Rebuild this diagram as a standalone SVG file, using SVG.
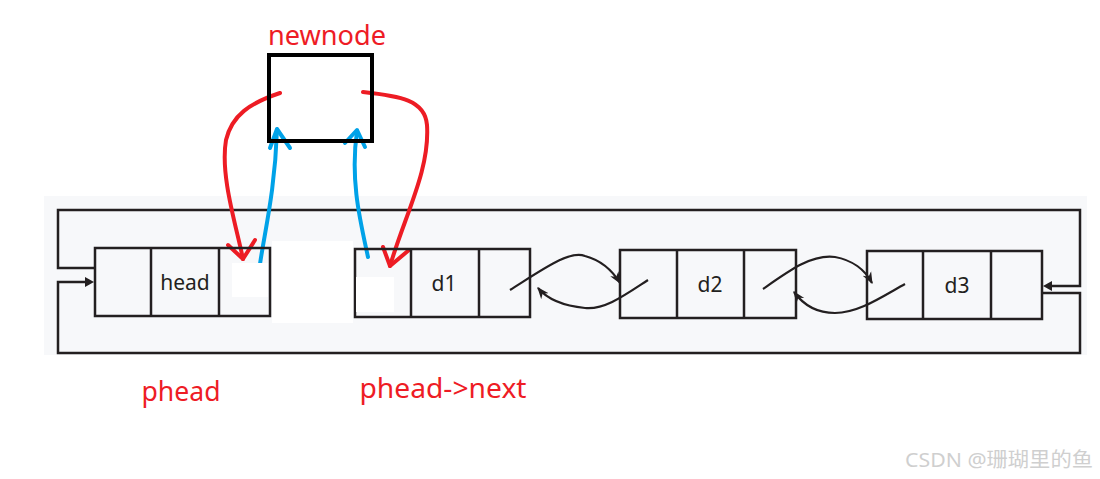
<svg xmlns="http://www.w3.org/2000/svg" width="1100" height="479" viewBox="0 0 1100 479">
<defs>
<style>
.box{fill:none;stroke:#231f20;stroke-width:2.5}
.ln{fill:none;stroke:#231f20;stroke-width:2.5}
.cv{fill:none;stroke:#231f20;stroke-width:2.2}
.lbl{font-family:"Noto Sans","Open Sans",sans-serif;font-size:21px;fill:#231f20;text-anchor:middle}
.red{font-family:"Noto Sans","Open Sans",sans-serif;font-size:27px;fill:#ee1c25;text-anchor:middle}
.rp{fill:none;stroke:#ed1c24;stroke-width:4;stroke-linecap:round;stroke-linejoin:round}
.bp{fill:none;stroke:#00a2e8;stroke-width:4;stroke-linecap:round;stroke-linejoin:round}
</style>
<marker id="ah2" viewBox="0 0 10 10" refX="9" refY="5" markerWidth="12" markerHeight="12" orient="auto" markerUnits="userSpaceOnUse">
<path d="M0,1 L10,5 L0,9 L3,5 Z" fill="#231f20"/>
</marker>
</defs>
<rect width="1100" height="479" fill="#ffffff"/>
<rect x="44" y="196" width="1043" height="159" fill="#f7f8fa"/>
<rect x="272" y="241" width="81" height="82" fill="#ffffff"/>

<g id="connectors">
<polyline class="ln" points="95,268 58,268 58,210 1080,210 1080,286 1050,286"/>
<path d="M1052,281 L1043,286 L1052,291 Z" fill="#231f20"/>
<polyline class="ln" points="1043,293 1080,293 1080,353 58,353 58,282 86,282"/>
<path d="M85,277 L94,282 L85,287 Z" fill="#231f20"/>
<path class="cv" d="M510,290 C545,268 570,250 585,256 C600,260 612,270 620,283" marker-end="url(#ah2)"/>
<path class="cv" d="M648,280 C625,295 605,310 585,308 C565,306 548,300 538,288" marker-end="url(#ah2)"/>
<path class="cv" d="M763,289 C790,270 812,254 835,257 C852,260 865,270 872,283" marker-end="url(#ah2)"/>
<path class="cv" d="M905,284 C880,298 858,313 835,313 C815,313 802,303 794,292" marker-end="url(#ah2)"/>
<path class="rp" d="M280,93 C250,103 232,115 226,140 C220,175 236,225 243,259"/>
<path class="rp" d="M228,245 L243,259 L255,240"/>
<path class="rp" d="M363,92 C400,96 425,100 427,125 C430,170 405,215 390,266"/>
<path class="rp" d="M383,247 L390,266 L409,250"/>
<path class="bp" d="M260,264 C265,230 275,190 277,130"/>
<path class="bp" d="M270,148 L277,129 L290,148"/>
<path class="bp" d="M368,257 C360,220 350,180 357,131"/>
<path class="bp" d="M345,143 L357,130 L365,147"/>
</g>

<g id="node-head">
<rect class="box" x="95" y="248" width="175" height="68"/>
<line class="box" x1="151" y1="248" x2="151" y2="316"/>
<line class="box" x1="219" y1="248" x2="219" y2="316"/>
<rect x="232" y="263" width="36" height="34" fill="#ffffff"/>
<text class="lbl" x="185" y="290">head</text>
</g>
<g id="node-d1">
<rect class="box" x="355" y="249" width="175" height="68"/>
<line class="box" x1="411" y1="249" x2="411" y2="317"/>
<line class="box" x1="479" y1="249" x2="479" y2="317"/>
<rect x="356" y="277" width="38" height="35" fill="#ffffff"/>
<text class="lbl" x="444" y="291">d1</text>
</g>
<g id="node-d2">
<rect class="box" x="620" y="250" width="176" height="68"/>
<line class="box" x1="677" y1="250" x2="677" y2="318"/>
<line class="box" x1="744" y1="250" x2="744" y2="318"/>
<text class="lbl" x="710" y="292">d2</text>
</g>
<g id="node-d3">
<rect class="box" x="867" y="251" width="175" height="68"/>
<line class="box" x1="923" y1="251" x2="923" y2="319"/>
<line class="box" x1="991" y1="251" x2="991" y2="319"/>
<text class="lbl" x="957" y="293">d3</text>
</g>
<g id="node-newnode">
<rect x="269" y="55" width="103" height="86" fill="none" stroke="#000" stroke-width="4"/>
<text class="red" x="327" y="45" textLength="118" lengthAdjust="spacingAndGlyphs">newnode</text>
</g>
<g id="labels">
<text class="red" x="181" y="401" textLength="79" lengthAdjust="spacingAndGlyphs">phead</text>
<text class="red" x="443" y="398" textLength="167" lengthAdjust="spacingAndGlyphs">phead-&gt;next</text>
<text x="905" y="467" font-family="Noto Sans, Noto Sans CJK SC, sans-serif" font-size="20" fill="#cfcfcf" textLength="188" lengthAdjust="spacingAndGlyphs">CSDN @珊瑚里的鱼</text>
</g>
</svg>
